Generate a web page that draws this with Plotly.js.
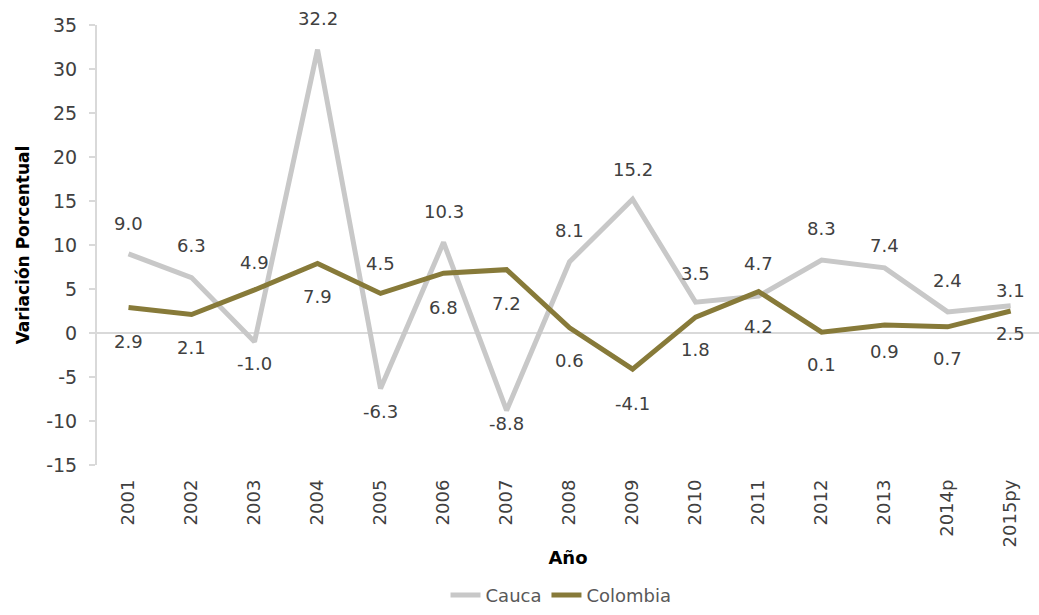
<!DOCTYPE html>
<html>
<head>
<meta charset="utf-8">
<script src="https://cdn.plot.ly/plotly-3.0.1.min.js"></script>
<style>html,body{margin:0;padding:0;background:#fff;}#chart{width:1039px;height:615px;}</style>
</head>
<body>
<div id="chart"></div>
<script>
// ---- data ----
const years = ["2001","2002","2003","2004","2005","2006","2007","2008","2009","2010","2011","2012","2013","2014p","2015py"];
const cauca = [9.0, 6.3, -1.0, 32.2, -6.3, 10.3, -8.8, 8.1, 15.2, 3.5, 4.2, 8.3, 7.4, 2.4, 3.1];
const colombia = [2.9, 2.1, 4.9, 7.9, 4.5, 6.8, 7.2, 0.6, -4.1, 1.8, 4.7, 0.1, 0.9, 0.7, 2.5];
const yTickVals = [-15, -10, -5, 0, 5, 10, 15, 20, 25, 30, 35];
const yTickText = ["-15", "-10", "-5", "0", "5", "10", "15", "20", "25", "30", "35"];

// label vertical shifts (px, positive = up) — styling only
const caucaShift = [30, 32, -22, 31, -23, 31, -13, 31, 30, 29, -30, 31, 22, 31, 15];
const colombiaShift = [-34, -33, 27, -33, 30, -34, -34, -33, -34, -32, 28, -32, -26, -32, -22];

const labelFont = {family: "DejaVu Sans", size: 18, color: "#404040"};
const annotations = [];
years.forEach((y, i) => {
  annotations.push({x: i, y: cauca[i], text: cauca[i].toFixed(1), showarrow: false,
    yshift: caucaShift[i], font: labelFont});
  annotations.push({x: i, y: colombia[i], text: colombia[i].toFixed(1), showarrow: false,
    yshift: colombiaShift[i], font: labelFont});
});

const traces = [
  {x: years, y: cauca, name: "Cauca", type: "scatter", mode: "lines",
   line: {color: "#c8c8c8", width: 5}},
  {x: years, y: colombia, name: "Colombia", type: "scatter", mode: "lines",
   line: {color: "#877a39", width: 5}}
];

const layout = {
  width: 1039, height: 615,
  margin: {l: 97, r: 0, t: 25, b: 150},
  paper_bgcolor: "#ffffff", plot_bgcolor: "#ffffff",
  showlegend: true,
  legend: {orientation: "h", x: 0.4926, xanchor: "center",
    y: -0.338, yanchor: "bottom",
    font: {family: "DejaVu Sans", size: 18, color: "#595959"}},
  xaxis: {type: "category", range: [-0.5, 14.45], showgrid: false, zeroline: false,
    showline: false, ticks: "", tickangle: -90, ticklabelstandoff: 10, automargin: false,
    tickfont: {family: "DejaVu Sans", size: 18, color: "#404040"},
    title: {text: "Año", font: {family: "DejaVu Sans", size: 18, color: "#000", weight: "bold"}, standoff: 4}},
  yaxis: {range: [-15, 35], tickmode: "array", tickvals: yTickVals, ticktext: yTickText,
    showgrid: false, automargin: false,
    zeroline: true, zerolinecolor: "#d9d9d9", zerolinewidth: 2,
    showline: true, linecolor: "#d9d9d9", linewidth: 2,
    ticks: "outside", ticklen: 6, tickcolor: "#d9d9d9", tickwidth: 2,
    ticklabelstandoff: 8,
    tickfont: {family: "DejaVu Sans", size: 19, color: "#404040"},
    title: {text: "Variación Porcentual", font: {family: "DejaVu Sans", size: 17, color: "#000", weight: "bold"}, standoff: 12}},
  annotations: annotations
};

Plotly.newPlot("chart", traces, layout, {displayModeBar: false, staticPlot: true});
</script>
</body>
</html>
